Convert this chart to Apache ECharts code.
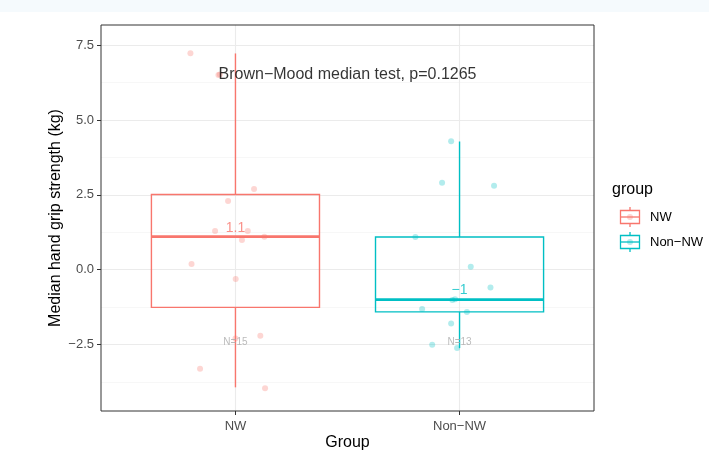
<!DOCTYPE html>
<html><head><meta charset="utf-8">
<script src="https://cdn.jsdelivr.net/npm/echarts@6/dist/echarts.min.js"></script>
<style>html,body{margin:0;padding:0;background:#fff}#c{width:709px;height:451px}</style>
</head><body><div id="c"></div>
<script>
const categories = ['NW', 'Non\u2212NW'];
const groupPos = [1, 2];
const colors = ['#F8766D', '#00BFC4'];
// box stats: [lowerWhisker, q1, median, q3, upperWhisker]
const boxNW = [-3.93, -1.26, 1.1, 2.51, 7.22];
const boxNonNW = [-2.62, -1.41, -1.0, 1.09, 4.28];
const medianLabels = ['1.1', '\u22121'];
const countLabels = ['N=15', 'N=13'];
// jittered points [x, y]
const pointsNW = [[0.799,7.23],[0.924,6.5],[0.93,6.52],[1.083,2.69],[0.967,2.29],[0.909,1.29],[1.055,1.29],[1.029,0.99],[1.129,1.1],[0.804,0.19],[1.001,-0.31],[1.111,-2.21],[1.0,-2.3],[0.842,-3.31],[1.132,-3.96]];
const pointsNonNW = [[1.9625,4.29],[1.922,2.9],[2.154,2.8],[1.803,1.09],[2.05,0.1],[2.138,-0.6],[1.968,-1.01],[1.98,-0.99],[1.833,-1.31],[2.033,-1.41],[1.9625,-1.8],[1.878,-2.51],[1.989,-2.62]];
const yTicks = [-2.5, 0, 2.5, 5, 7.5];
const yMinor = [-3.75, -1.25, 1.25, 3.75, 6.25];
const annotationText = 'Brown\u2212Mood median test, p=0.1265';
const annotationPos = [1.5, 6.5];
const countY = -2.42;

const FONT = 'Liberation Sans, Arial, sans-serif';
const chart = echarts.init(document.getElementById('c'));

function fmtTick(v){ return (v<0?'\u2212':'') + Math.abs(v).toFixed(1); }

const boxes = [[groupPos[0]].concat(boxNW), [groupPos[1]].concat(boxNonNW)];

const option = {
  animation: false,
  backgroundColor: '#fff',
  textStyle: {fontFamily: FONT},
  grid: {left: 101, right: 115, top: 25, bottom: 40, outerBoundsMode: 'none', containLabel: false, show: true, borderColor: '#333', borderWidth: 1, backgroundColor: 'transparent', z: 10},
  xAxis: {
    type: 'value', min: 0.4, max: 2.6,
    name: 'Group', nameLocation: 'middle', nameGap: 24, nameMoveOverlap: false,
    nameTextStyle: {fontSize: 16, color: '#000', fontFamily: FONT},
    axisLine: {show: false, onZero: false},
    axisTick: {show: true, customValues: groupPos, length: 4, lineStyle: {color: '#333'}},
    axisLabel: {show: true, customValues: groupPos, formatter: v => categories[Math.round(v)-1] || '', color: '#4d4d4d', fontSize: 13, margin: 9, fontFamily: FONT},
    splitLine: {show: false}
  },
  yAxis: {
    type: 'value', min: -4.72, max: 8.17,
    name: 'Median hand grip strength (kg)', nameLocation: 'middle', nameGap: 37, nameRotate: 90, nameMoveOverlap: false,
    nameTextStyle: {fontSize: 16, color: '#000', fontFamily: FONT},
    axisLine: {show: false, onZero: false},
    axisTick: {show: true, customValues: yTicks, length: 4, lineStyle: {color: '#333'}},
    axisLabel: {show: true, customValues: yTicks, formatter: fmtTick, color: '#4d4d4d', fontSize: 13, margin: 7, fontFamily: FONT},
    splitLine: {show: false}
  },
  series: [
    {
      type: 'line', data: [], silent: true, z: 0,
      markLine: {
        silent: true, symbol: 'none', label: {show: false}, animation: false, z: 0,
        data: yMinor.map(v => ({yAxis: v, lineStyle: {color: '#f2f2f2', width: 0.6, type: 'solid'}}))
          .concat(yTicks.map(v => ({yAxis: v, lineStyle: {color: '#ebebeb', width: 1.1, type: 'solid'}})))
          .concat(groupPos.map(v => ({xAxis: v, lineStyle: {color: '#ebebeb', width: 1.1, type: 'solid'}})))
      }
    },
    {
      type: 'custom', z: 2, data: boxes, silent: true,
      renderItem: function(params, api){
        const x = api.value(0);
        const c = colors[params.dataIndex];
        const hw = api.size([0.375, 0])[0];
        const pLo = api.coord([x, api.value(1)]);
        const pQ1 = api.coord([x, api.value(2)]);
        const pMed = api.coord([x, api.value(3)]);
        const pQ3 = api.coord([x, api.value(4)]);
        const pHi = api.coord([x, api.value(5)]);
        const st = {stroke: c, lineWidth: 1.4, fill: null};
        return {type: 'group', children: [
          {type: 'line', shape: {x1: pHi[0], y1: pHi[1], x2: pQ3[0], y2: pQ3[1]}, style: st},
          {type: 'line', shape: {x1: pQ1[0], y1: pQ1[1], x2: pLo[0], y2: pLo[1]}, style: st},
          {type: 'rect', shape: {x: pQ3[0]-hw, y: pQ3[1], width: 2*hw, height: pQ1[1]-pQ3[1]}, style: st},
          {type: 'line', shape: {x1: pMed[0]-hw, y1: pMed[1], x2: pMed[0]+hw, y2: pMed[1]}, style: {stroke: c, lineWidth: 2.8}}
        ]};
      }
    },
    {type: 'scatter', z: 3, data: pointsNW, symbolSize: 6, itemStyle: {color: colors[0], opacity: 0.3}, silent: true},
    {type: 'scatter', z: 3, data: pointsNonNW, symbolSize: 6, itemStyle: {color: colors[1], opacity: 0.3}, silent: true},
    {type: 'scatter', z: 4, symbolSize: 0, silent: true,
      data: [
        {value: [groupPos[0], boxNW[2]], label: {formatter: medianLabels[0], color: colors[0]}},
        {value: [groupPos[1], boxNonNW[2]], label: {formatter: medianLabels[1], color: colors[1]}}
      ],
      label: {show: true, position: 'top', distance: 2, fontSize: 14, fontFamily: FONT}
    },
    {type: 'scatter', z: 4, symbolSize: 0, silent: true,
      data: [
        {value: [groupPos[0], countY], label: {formatter: countLabels[0]}},
        {value: [groupPos[1], countY], label: {formatter: countLabels[1]}}
      ],
      label: {show: true, position: 'inside', fontSize: 10, color: '#aaaaaa', fontFamily: FONT}
    },
    {type: 'scatter', z: 5, symbolSize: 0, silent: true,
      data: [{value: annotationPos}],
      label: {show: true, position: 'inside', formatter: annotationText, fontSize: 16, color: '#000', fontFamily: FONT}
    }
  ],
  graphic: [
    {type: 'rect', shape: {x: 0, y: 0, width: 709, height: 12}, style: {fill: '#f5fafd'}, z: -1},
    {type: 'text', x: 612, y: 190, style: {text: 'group', fontSize: 16, fill: '#000', fontFamily: FONT, verticalAlign: 'middle'}},
  ]
};

function legendKey(cy, color, label){
  const cx = 630;
  return [
    {type: 'line', shape: {x1: cx, y1: cy-10, x2: cx, y2: cy+10}, style: {stroke: color, lineWidth: 1.3}},
    {type: 'rect', shape: {x: cx-9.5, y: cy-6.5, width: 19, height: 13}, style: {stroke: color, fill: '#fff', lineWidth: 1.3}},
    {type: 'line', shape: {x1: cx-9.5, y1: cy, x2: cx+9.5, y2: cy}, style: {stroke: color, lineWidth: 1.3}},
    {type: 'circle', shape: {cx: cx, cy: cy, r: 3}, style: {fill: color, opacity: 0.3}},
    {type: 'text', x: 650, y: cy, style: {text: label, fontSize: 13, fill: '#000', fontFamily: FONT, verticalAlign: 'middle'}}
  ];
}
option.graphic = option.graphic.concat(legendKey(217, colors[0], categories[0])).concat(legendKey(242, colors[1], categories[1]));

chart.setOption(option);
</script>
</body></html>
